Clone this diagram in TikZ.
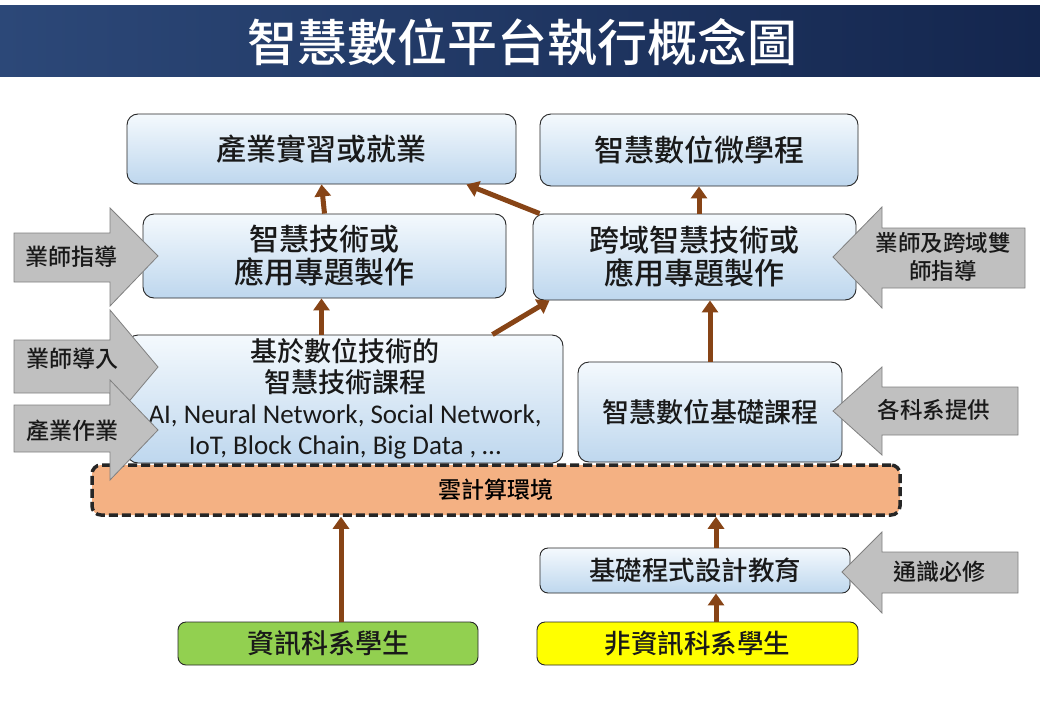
\documentclass[tikz,border=0pt]{standalone}
\usepackage{fontspec}
\newfontfamily\cjk{Noto Sans CJK TC}[BoldFont={Noto Sans CJK TC Medium}]
\newfontfamily\lat{Carlito}
\usetikzlibrary{arrows.meta}
\definecolor{navyL}{RGB}{44,72,120}
\definecolor{navyR}{RGB}{20,38,78}
\definecolor{boxtop}{RGB}{244,249,253}
\definecolor{boxbot}{RGB}{190,215,238}
\definecolor{arrbrown}{RGB}{135,68,22}
\definecolor{grayfill}{RGB}{192,192,192}
\definecolor{grayline}{RGB}{128,128,128}
\definecolor{cloudfill}{RGB}{244,177,131}
\definecolor{greenfill}{RGB}{146,208,80}
\definecolor{yellowfill}{RGB}{255,255,0}
\tikzset{
  box/.style={draw=black!85, line width=0.9pt, rounded corners=11pt, top color=boxtop, bottom color=boxbot, align=center, font=\cjk\bfseries\fontsize{30}{33}\selectfont, text=black!90, inner sep=0pt},
  flatbox/.style={draw=black!85, line width=0.9pt, rounded corners=8pt, align=center, font=\cjk\bfseries\fontsize{27}{30}\selectfont, text=black!90, inner sep=0pt},
  cloudbox/.style={draw=black!85, fill=cloudfill, line width=3.5pt, dash pattern=on 9pt off 4pt, rounded corners=9pt, font=\cjk\bfseries\fontsize{23}{26}\selectfont, inner sep=0pt},
  conn/.style={draw=arrbrown, line width=5pt, -{Triangle[width=16pt,length=12pt]}},
  grayarr/.style={draw=grayline, fill=grayfill, line width=0.8pt},
  graytxt/.style={font=\cjk\bfseries\fontsize{23}{28}\selectfont, text=black!90, align=center},
}
\begin{document}
\begin{tikzpicture}[x=1pt,y=-1pt]
\useasboundingbox (0,0) rectangle (1040,720);
\fill[white] (0,0) rectangle (1040,720);
% title bar
\shade[left color=navyL, right color=navyR] (0,5) rectangle (1040,76);
\node[text=white, font=\cjk\bfseries\fontsize{50}{54}\selectfont] (title) at (522,42) {智慧數位平台執行概念圖};

% boxes
\node[box, minimum width=389pt, minimum height=70pt] (n1) at (321.5,149) {產業實習或就業};
\node[box, minimum width=318pt, minimum height=72pt] (n2) at (699,150) {智慧數位微學程};
\node[box, minimum width=363pt, minimum height=84pt] (n3) at (324.5,256) {智慧技術或\\應用專題製作};
\node[box, minimum width=323pt, minimum height=86pt] (n4) at (694.5,257) {跨域智慧技術或\\應用專題製作};
\node[box, minimum width=436pt, minimum height=128pt, font=\cjk\bfseries\fontsize{27}{31}\selectfont] (n5) at (345,399) {基於數位技術的\\智慧技術課程\\{\lat\mdseries\fontsize{27}{31}\selectfont AI, Neural Network, Social Network,}\\{\lat\mdseries\fontsize{27}{31}\selectfont IoT, Block Chain, Big Data , \dots}};
\node[box, minimum width=264pt, minimum height=100pt, font=\cjk\bfseries\fontsize{27}{30}\selectfont] (n6) at (710,412) {智慧數位基礎課程};
\node[cloudbox, minimum width=808pt, minimum height=50pt] (cloud) at (496,490) {雲計算環境};
\node[box, rounded corners=8pt, minimum width=310pt, minimum height=45pt, font=\cjk\bfseries\fontsize{26.5}{30}\selectfont] (n7) at (695,570.5) {基礎程式設計教育};
\node[flatbox, fill=greenfill, minimum width=300pt, minimum height=43pt] (n8) at (328,643.5) {資訊科系學生};
\node[flatbox, fill=yellowfill, minimum width=321pt, minimum height=43pt, font=\cjk\bfseries\fontsize{26.5}{30}\selectfont] (n9) at (697.5,643.5) {非資訊科系學生};

% connectors
\draw[conn] (n3.north) -- (n1.south);
\draw[conn] (n2.south |- n4.north) -- (n2.south);
\draw[conn] ([xshift=7pt]n4.north west) -- ([xshift=-50pt]n1.south east);
\draw[conn] (n5.north -| n1.south) -- (n3.south -| n1.south);
\draw[conn] ([xshift=-71pt]n5.north east) -- ([xshift=17pt]n4.south west);
\draw[conn] (n6.north) -- (n6.north |- n4.south);
\draw[conn] ([xshift=13pt]n8.north) -- ([xshift=13pt]n8.north |- cloud.south);
\draw[conn] ([xshift=21pt]n7.north) -- ([xshift=21pt]n7.north |- cloud.south);
\draw[conn] ([xshift=21pt]n9.north -| n7.north) -- ([xshift=21pt]n7.south);

% gray block arrows (left)
\draw[grayarr] (14,233) -- (110,233) -- (110,208) -- (158,256) -- (110,306) -- (110,282) -- (14,282) -- cycle;
\node[graytxt] (g1) at (71,257) {業師指導};
\draw[grayarr] (14,340) -- (110,340) -- (110,310) -- (158,367) -- (110,424) -- (110,393) -- (14,393) -- cycle;
\node[graytxt] (g2) at (72,359) {業師導入};
\draw[grayarr] (14,405) -- (110,405) -- (110,380) -- (158,430) -- (110,480) -- (110,452) -- (14,452) -- cycle;
\node[graytxt] (g3) at (72,431) {產業作業};
% gray block arrows (right)
\draw[grayarr] (1025,228) -- (882,228) -- (882,207) -- (833,257) -- (882,308) -- (882,288) -- (1025,288) -- cycle;
\node[graytxt, font=\cjk\bfseries\fontsize{22.5}{28}\selectfont] (g4) at (943,257) {業師及跨域雙\\師指導};
\draw[grayarr] (1018,387) -- (882,387) -- (882,367) -- (833,411) -- (882,455) -- (882,435) -- (1018,435) -- cycle;
\node[graytxt, font=\cjk\bfseries\fontsize{22.5}{28}\selectfont] (g5) at (934,410) {各科系提供};
\draw[grayarr] (1018,552) -- (882,552) -- (882,532) -- (842,572) -- (882,613) -- (882,593) -- (1018,593) -- cycle;
\node[graytxt] (g6) at (939,572) {通識必修};
\end{tikzpicture}
\end{document}
